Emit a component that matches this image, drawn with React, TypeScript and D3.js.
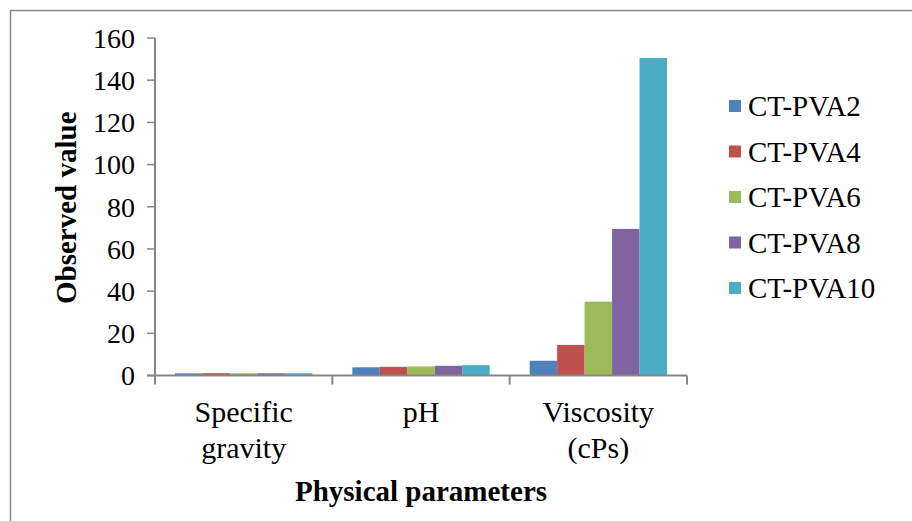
import React from "react";
import * as d3 from "d3";

const categories = ["Specific gravity", "pH", "Viscosity (cPs)"];
const categoryLines = [["Specific", "gravity"], ["pH"], ["Viscosity", "(cPs)"]];
const seriesNames = ["CT-PVA2", "CT-PVA4", "CT-PVA6", "CT-PVA8", "CT-PVA10"];
const colors = ["#4F81BD", "#C0504D", "#9BBB59", "#8064A2", "#4BACC6"];
const ctPva2 = [1.0, 3.9, 7.0];
const ctPva4 = [1.1, 4.1, 14.5];
const ctPva6 = [1.05, 4.3, 35.0];
const ctPva8 = [1.05, 4.6, 69.5];
const ctPva10 = [1.05, 4.9, 150.5];
const seriesValues = [ctPva2, ctPva4, ctPva6, ctPva8, ctPva10];
const yTicks = [0, 20, 40, 60, 80, 100, 120, 140, 160];

const W = 912;
const H = 521;
const FONT = "Liberation Serif, Times New Roman, DejaVu Serif, serif";

export default function App() {
  const left = 155;
  const right = 687;
  const top = 38;
  const bottom = 375.5;

  const y = d3.scaleLinear().domain([0, 160]).range([bottom, top]);
  const x = d3.scaleBand<string>().domain(categories).range([left, right]).padding(0);
  const bw = x.bandwidth();
  const xs = d3.scaleBand<string>().domain(seriesNames).range([20, bw - 20]).padding(0);

  const axisColor = "#868686";
  const ts = { fontFamily: FONT };

  return (
    <svg
      width={W}
      height={H}
      style={{ position: "absolute", left: 0, top: 0, background: "#fff" }}
    >
      <rect x={0} y={0} width={W} height={H} fill="#fff" />
      <path d={`M10.5,${H + 5} L10.5,10.5 L${W + 5},10.5`} fill="none" stroke="#888" strokeWidth={1.5} />

      {seriesNames.map((s, si) =>
        categories.map((c, ci) => {
          const v = seriesValues[si][ci];
          const x0 = (x(c) ?? 0) + (xs(s) ?? 0);
          return (
            <rect
              key={s + c}
              x={x0}
              y={y(v)}
              width={xs.bandwidth()}
              height={bottom - y(v)}
              fill={colors[si]}
            />
          );
        })
      )}

      <line x1={left} x2={left} y1={top} y2={bottom} stroke={axisColor} strokeWidth={2} />
      {yTicks.map((t) => (
        <g key={t}>
          <line x1={left - 8} x2={left} y1={y(t)} y2={y(t)} stroke={axisColor} strokeWidth={1.5} />
          <text x={135} y={y(t)} dy="0.35em" textAnchor="end" fontSize={28} fill="#000" style={ts}>
            {t}
          </text>
        </g>
      ))}

      <line x1={left - 8} x2={right} y1={bottom} y2={bottom} stroke={axisColor} strokeWidth={2} />
      {[...categories.map((c) => x(c) ?? 0), right].map((px, i) => (
        <line key={i} x1={px} x2={px} y1={bottom} y2={bottom + 9} stroke={axisColor} strokeWidth={2} />
      ))}
      {categories.map((c, ci) => (
        <text key={c} textAnchor="middle" fontSize={30} fill="#000" style={ts}>
          {categoryLines[ci].map((ln, li) => (
            <tspan key={li} x={(x(c) ?? 0) + bw / 2} y={422 + li * 36}>
              {ln}
            </tspan>
          ))}
        </text>
      ))}

      <text
        transform={`translate(76,${(top + bottom) / 2 + 1}) rotate(-90)`}
        textAnchor="middle"
        fontSize={29}
        fontWeight="bold"
        fill="#000"
        style={ts}
      >
        Observed value
      </text>
      <text x={(left + right) / 2} y={501} textAnchor="middle" fontSize={29} fontWeight="bold" fill="#000" style={ts}>
        Physical parameters
      </text>

      {seriesNames.map((s, i) => {
        const cy = 106 + i * 45.5;
        return (
          <g key={s}>
            <rect x={729} y={cy - 6} width={12} height={12} fill={colors[i]} />
            <text x={748} y={cy} dy="0.35em" fontSize={29} fill="#000" style={ts}>
              {s}
            </text>
          </g>
        );
      })}
    </svg>
  );
}
